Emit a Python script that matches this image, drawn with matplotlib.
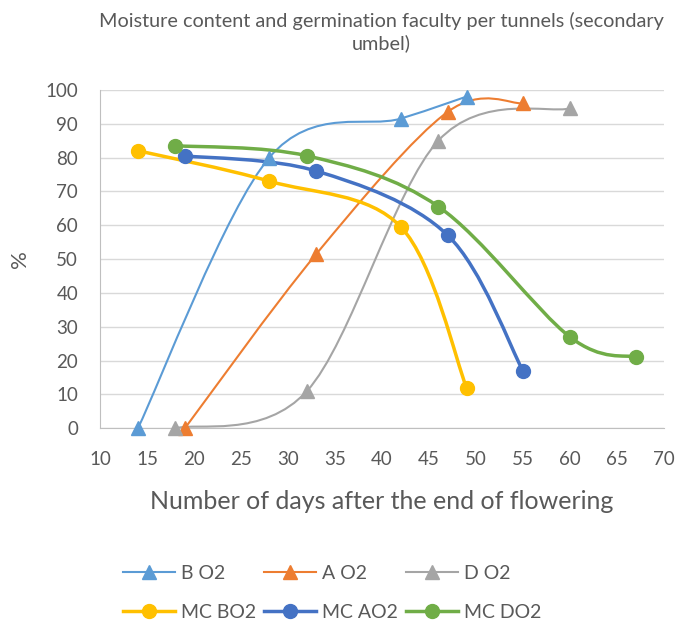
import numpy as np
import matplotlib.pyplot as plt
from matplotlib.path import Path
from matplotlib.patches import PathPatch
from matplotlib.lines import Line2D

plt.rcParams["font.family"] = ["Lato", "DejaVu Sans"]

TEXT = "#595959"

# germination faculty series (triangles)
b_days = [14, 28, 42, 49]
b_vals = [0, 80, 91.5, 98]
a_days = [19, 33, 47, 55]
a_vals = [0, 51.5, 93.5, 96]
d_days = [18, 32, 46, 60]
d_vals = [0, 11, 85, 94.5]

# moisture content series (circles)
mcb_days = [14, 28, 42, 49]
mcb_vals = [82, 73, 59.5, 12]
mca_days = [19, 33, 47, 55]
mca_vals = [80.5, 76, 57, 17]
mcd_days = [18, 32, 46, 60, 67]
mcd_vals = [83.5, 80.5, 65.5, 27, 21]

SERIES = [
    ("B O2", b_days, b_vals, "#5B9BD5", "^"),
    ("A O2", a_days, a_vals, "#ED7D31", "^"),
    ("D O2", d_days, d_vals, "#A5A5A5", "^"),
    ("MC BO2", mcb_days, mcb_vals, "#FFC000", "o"),
    ("MC AO2", mca_days, mca_vals, "#4472C4", "o"),
    ("MC DO2", mcd_days, mcd_vals, "#70AD47", "o"),
]


def smooth_path(xs, ys):
    # Excel-like smoothed line: Catmull-Rom converted to cubic Bezier
    p = np.column_stack([xs, ys]).astype(float)
    n = len(p)
    verts = [p[0]]
    codes = [Path.MOVETO]
    for i in range(n - 1):
        p0 = p[i - 1] if i > 0 else p[i]
        p1 = p[i]
        p2 = p[i + 1]
        p3 = p[i + 2] if i + 2 < n else p[i + 1]
        c1 = p1 + (p2 - p0) / 6.0
        c2 = p2 - (p3 - p1) / 6.0
        verts += [c1, c2, p2]
        codes += [Path.CURVE4] * 3
    return Path(verts, codes)


fig = plt.figure(figsize=(6.78, 6.28), dpi=100)
ax = fig.add_axes([0.148, 0.318, 0.831, 0.539])

handles = []
for name, xs, ys, color, mk in SERIES:
    lw = 1.5 if mk == "^" else 2.5
    ms = 10
    patch = PathPatch(smooth_path(xs, ys), facecolor="none", edgecolor=color,
                      lw=lw, zorder=2, capstyle="round")
    ax.add_patch(patch)
    ax.plot(xs, ys, linestyle="none", marker=mk, color=color, markersize=ms,
            zorder=3, clip_on=False)
    handles.append(Line2D([], [], color=color, lw=lw, marker=mk,
                          markersize=ms, label=name))

ax.set_xlim(10, 70)
ax.set_ylim(0, 100)
ax.set_xticks(np.arange(10, 71, 5))
ax.set_yticks(np.arange(0, 101, 10))
ax.grid(axis="y", color="#D9D9D9", lw=1)
ax.set_axisbelow(True)
for s in ["top", "right"]:
    ax.spines[s].set_visible(False)
for s in ["left", "bottom"]:
    ax.spines[s].set_color("#BFBFBF")
ax.tick_params(length=0, labelsize=13.5, colors=TEXT)
ax.tick_params(axis="y", pad=16)
ax.tick_params(axis="x", pad=16)
ax.set_xlabel("Number of days after the end of flowering", fontsize=18,
              color=TEXT, labelpad=16)
ax.set_ylabel("%", fontsize=16, color=TEXT, labelpad=11)

fig.text(0.562, 0.949, "Moisture content and germination faculty per tunnels (secondary\numbel)",
         ha="center", va="center", fontsize=14.3, color=TEXT, linespacing=1.3)

order = [0, 3, 1, 4, 2, 5]
fig.legend([handles[i] for i in order], [handles[i].get_label() for i in order],
           ncol=3, loc="lower center", bbox_to_anchor=(0.49, -0.016),
           frameon=False, fontsize=14, labelcolor=TEXT, handlelength=2.7,
           columnspacing=0.4, handletextpad=0.3, labelspacing=1.1)

fig.savefig("out.png", dpi=100)
